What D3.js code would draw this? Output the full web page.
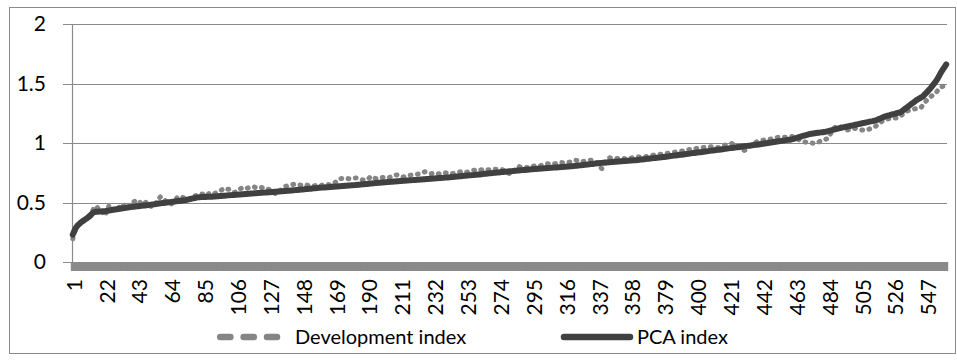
<!DOCTYPE html>
<html><head><meta charset="utf-8">
<script src="https://cdn.jsdelivr.net/npm/d3@7"></script>
<style>
body{margin:0;background:#fff}
svg{display:block}
text{font-family:Lato,"Liberation Sans",sans-serif;fill:#000}
</style>
</head><body>
<svg id="c" width="957" height="361"></svg>
<script>
const pcaIndex = [
0.230,0.262,0.288,0.305,0.318,0.330,0.340,0.349,0.358,0.367,
0.377,0.388,0.402,0.415,0.420,0.422,0.423,0.424,0.425,0.426,
0.427,0.428,0.430,0.432,0.435,0.437,0.439,0.441,0.443,0.445,
0.447,0.449,0.451,0.453,0.455,0.457,0.459,0.461,0.463,0.465,
0.466,0.468,0.469,0.471,0.472,0.474,0.475,0.477,0.478,0.480,
0.482,0.484,0.485,0.487,0.489,0.491,0.493,0.495,0.496,0.498,
0.500,0.502,0.503,0.505,0.507,0.508,0.510,0.512,0.513,0.515,
0.517,0.518,0.520,0.523,0.526,0.529,0.532,0.535,0.538,0.541,
0.543,0.545,0.546,0.546,0.547,0.547,0.548,0.548,0.549,0.549,
0.550,0.551,0.552,0.553,0.554,0.555,0.556,0.557,0.558,0.560,
0.561,0.562,0.563,0.564,0.565,0.566,0.567,0.568,0.569,0.570,
0.571,0.572,0.573,0.574,0.575,0.576,0.577,0.578,0.579,0.580,
0.581,0.582,0.583,0.584,0.585,0.586,0.587,0.588,0.589,0.590,
0.591,0.592,0.593,0.594,0.595,0.596,0.597,0.598,0.599,0.600,
0.601,0.603,0.604,0.605,0.606,0.608,0.609,0.610,0.611,0.613,
0.614,0.615,0.616,0.618,0.619,0.620,0.621,0.623,0.624,0.625,
0.626,0.627,0.628,0.629,0.630,0.631,0.632,0.633,0.634,0.635,
0.636,0.637,0.638,0.639,0.640,0.641,0.642,0.643,0.644,0.645,
0.646,0.648,0.649,0.650,0.651,0.653,0.654,0.655,0.656,0.658,
0.659,0.660,0.661,0.663,0.664,0.665,0.666,0.668,0.669,0.670,
0.671,0.672,0.673,0.674,0.675,0.676,0.677,0.678,0.679,0.680,
0.681,0.682,0.683,0.684,0.685,0.686,0.687,0.688,0.689,0.690,
0.691,0.692,0.693,0.694,0.695,0.696,0.697,0.698,0.699,0.700,
0.701,0.702,0.703,0.704,0.705,0.706,0.707,0.708,0.709,0.710,
0.711,0.713,0.714,0.715,0.716,0.718,0.719,0.720,0.721,0.723,
0.724,0.725,0.726,0.728,0.729,0.730,0.731,0.733,0.734,0.735,
0.736,0.738,0.739,0.741,0.742,0.744,0.745,0.746,0.747,0.749,
0.750,0.752,0.753,0.754,0.756,0.757,0.758,0.759,0.761,0.762,
0.763,0.764,0.766,0.767,0.768,0.769,0.771,0.772,0.773,0.774,
0.775,0.776,0.778,0.779,0.780,0.781,0.782,0.783,0.784,0.785,
0.786,0.787,0.788,0.789,0.790,0.791,0.792,0.793,0.794,0.795,
0.796,0.797,0.798,0.799,0.800,0.801,0.802,0.803,0.804,0.805,
0.806,0.808,0.809,0.811,0.812,0.814,0.815,0.817,0.818,0.820,
0.821,0.823,0.824,0.826,0.827,0.829,0.830,0.832,0.833,0.835,
0.836,0.837,0.838,0.839,0.840,0.841,0.842,0.843,0.844,0.845,
0.846,0.847,0.848,0.849,0.850,0.851,0.852,0.853,0.854,0.855,
0.856,0.858,0.859,0.861,0.862,0.864,0.865,0.867,0.868,0.870,
0.871,0.873,0.874,0.876,0.877,0.879,0.880,0.882,0.883,0.885,
0.887,0.888,0.890,0.892,0.894,0.895,0.897,0.899,0.901,0.902,
0.904,0.906,0.908,0.909,0.911,0.913,0.915,0.916,0.918,0.920,
0.922,0.923,0.925,0.927,0.929,0.930,0.932,0.934,0.936,0.937,
0.939,0.941,0.943,0.944,0.946,0.948,0.950,0.951,0.953,0.955,
0.957,0.958,0.960,0.962,0.964,0.965,0.967,0.969,0.971,0.972,
0.974,0.976,0.978,0.979,0.981,0.983,0.985,0.986,0.988,0.990,
0.992,0.994,0.996,0.998,1.000,1.002,1.004,1.006,1.008,1.010,
1.012,1.014,1.016,1.018,1.020,1.022,1.024,1.026,1.028,1.030,
1.033,1.037,1.041,1.045,1.049,1.053,1.057,1.061,1.065,1.069,
1.073,1.076,1.078,1.080,1.082,1.084,1.086,1.087,1.089,1.091,
1.093,1.095,1.098,1.101,1.105,1.108,1.112,1.115,1.119,1.122,
1.125,1.128,1.131,1.134,1.136,1.139,1.142,1.145,1.147,1.150,
1.153,1.156,1.159,1.162,1.165,1.168,1.170,1.173,1.176,1.179,
1.182,1.184,1.187,1.190,1.195,1.201,1.207,1.213,1.219,1.224,
1.227,1.231,1.234,1.238,1.242,1.245,1.249,1.253,1.256,1.260,
1.270,1.280,1.290,1.300,1.310,1.320,1.330,1.340,1.350,1.360,
1.368,1.375,1.383,1.390,1.404,1.418,1.432,1.446,1.460,1.478,
1.495,1.512,1.530,1.553,1.577,1.600,1.620,1.640,1.660
];
const devIndex = [
0.195,0.245,0.282,0.300,0.322,0.326,0.345,0.352,0.361,0.372,
0.385,0.395,0.412,0.440,0.462,0.470,0.452,0.428,0.430,0.418,
0.400,0.392,0.455,0.468,0.440,0.432,0.445,0.450,0.438,0.455,
0.462,0.448,0.470,0.478,0.488,0.490,0.476,0.468,0.492,0.505,
0.515,0.520,0.512,0.500,0.488,0.478,0.495,0.505,0.492,0.472,
0.468,0.462,0.470,0.490,0.512,0.535,0.548,0.545,0.532,0.515,
0.505,0.498,0.490,0.488,0.500,0.515,0.530,0.545,0.550,0.548,
0.545,0.538,0.530,0.522,0.525,0.530,0.528,0.540,0.555,0.560,
0.568,0.575,0.572,0.570,0.562,0.555,0.565,0.575,0.578,0.572,
0.570,0.578,0.585,0.590,0.598,0.605,0.612,0.618,0.620,0.612,
0.610,0.600,0.592,0.585,0.588,0.595,0.608,0.615,0.620,0.618,
0.612,0.618,0.622,0.628,0.630,0.632,0.630,0.625,0.622,0.625,
0.628,0.625,0.618,0.612,0.610,0.612,0.605,0.598,0.585,0.578,
0.572,0.575,0.590,0.610,0.622,0.628,0.635,0.640,0.645,0.648,
0.650,0.652,0.655,0.652,0.650,0.648,0.645,0.648,0.650,0.648,
0.645,0.642,0.640,0.638,0.640,0.642,0.640,0.636,0.638,0.645,
0.650,0.652,0.655,0.652,0.650,0.648,0.652,0.660,0.672,0.685,
0.695,0.700,0.702,0.704,0.705,0.703,0.700,0.698,0.700,0.702,
0.705,0.706,0.704,0.700,0.695,0.690,0.688,0.690,0.692,0.700,
0.715,0.720,0.712,0.705,0.700,0.702,0.705,0.708,0.710,0.712,
0.710,0.706,0.708,0.715,0.722,0.728,0.730,0.732,0.728,0.722,
0.718,0.715,0.718,0.722,0.725,0.728,0.730,0.732,0.735,0.738,
0.738,0.740,0.742,0.748,0.755,0.758,0.756,0.750,0.745,0.742,
0.745,0.748,0.746,0.742,0.740,0.745,0.750,0.752,0.750,0.746,
0.742,0.740,0.742,0.744,0.745,0.748,0.752,0.756,0.758,0.760,
0.757,0.752,0.755,0.760,0.765,0.768,0.770,0.772,0.770,0.768,
0.772,0.775,0.778,0.780,0.778,0.776,0.774,0.777,0.780,0.782,
0.780,0.778,0.780,0.782,0.778,0.772,0.768,0.765,0.752,0.742,
0.738,0.745,0.765,0.785,0.800,0.802,0.798,0.794,0.792,0.795,
0.795,0.792,0.795,0.800,0.805,0.808,0.810,0.808,0.805,0.810,
0.815,0.820,0.824,0.826,0.825,0.822,0.820,0.823,0.826,0.830,
0.833,0.835,0.836,0.835,0.834,0.835,0.836,0.838,0.842,0.848,
0.852,0.855,0.853,0.850,0.846,0.842,0.845,0.848,0.850,0.852,
0.854,0.856,0.856,0.855,0.848,0.830,0.810,0.795,0.785,0.800,
0.830,0.858,0.872,0.876,0.874,0.872,0.870,0.868,0.870,0.872,
0.874,0.872,0.870,0.868,0.866,0.868,0.870,0.874,0.877,0.880,
0.882,0.884,0.882,0.880,0.880,0.882,0.885,0.888,0.892,0.894,
0.896,0.898,0.900,0.902,0.903,0.905,0.906,0.908,0.910,0.912,
0.914,0.916,0.918,0.921,0.922,0.924,0.926,0.928,0.930,0.932,
0.934,0.936,0.938,0.942,0.946,0.948,0.950,0.948,0.952,0.956,
0.958,0.960,0.962,0.963,0.964,0.965,0.966,0.968,0.968,0.966,
0.964,0.962,0.962,0.964,0.968,0.972,0.978,0.984,0.988,0.992,
0.994,0.995,0.993,0.990,0.985,0.978,0.965,0.952,0.944,0.938,
0.942,0.952,0.966,0.978,0.988,0.996,1.004,1.010,1.016,1.020,
1.022,1.024,1.025,1.026,1.028,1.030,1.034,1.038,1.042,1.045,
1.047,1.048,1.049,1.050,1.049,1.048,1.050,1.052,1.054,1.055,
1.054,1.050,1.044,1.036,1.026,1.018,1.012,1.010,1.008,1.006,
1.004,1.002,1.000,0.998,0.996,0.998,1.004,1.012,1.020,1.026,
1.030,1.032,1.034,1.050,1.075,1.098,1.118,1.132,1.140,1.142,
1.138,1.130,1.122,1.116,1.112,1.110,1.112,1.116,1.120,1.122,
1.122,1.120,1.118,1.114,1.110,1.108,1.107,1.108,1.112,1.118,
1.124,1.130,1.136,1.142,1.150,1.160,1.172,1.182,1.190,1.196,
1.200,1.203,1.205,1.206,1.208,1.209,1.210,1.212,1.218,1.228,
1.240,1.252,1.262,1.268,1.272,1.276,1.280,1.284,1.287,1.289,
1.290,1.292,1.300,1.315,1.332,1.350,1.366,1.378,1.388,1.398,
1.408,1.418,1.432,1.448,1.460,1.470,1.478,1.485,1.490
];
const seriesNames = ["Development index", "PCA index"];
const yTickValues = [0, 0.5, 1, 1.5, 2];
const xTickLabels = [1,22,43,64,85,106,127,148,169,190,211,232,253,274,295,316,337,358,379,400,421,442,463,484,505,526,547];
const categories = pcaIndex.map((d, i) => i + 1);

const svg = d3.select("#c");
const plot = {l: 72, r: 947, t: 24, b: 262};
const gridColor = "#8a8a8a";

const x = d3.scaleBand().domain(categories).range([plot.l, plot.r]).padding(0);
const y = d3.scaleLinear().domain([0, 2]).range([plot.b, plot.t]);
const cx = c => x(c) + x.bandwidth() / 2;

// outer chart border
svg.append("rect").attr("x", 9.5).attr("y", 7.5).attr("width", 946).attr("height", 346)
  .attr("fill", "none").attr("stroke", gridColor).attr("stroke-width", 1);

// gridlines and y labels
const gy = svg.append("g");
gy.selectAll("line.grid").data(yTickValues).join("line").attr("class", "grid")
  .attr("x1", plot.l - 9).attr("x2", plot.r)
  .attr("y1", d => Math.round(y(d)) + 0.5).attr("y2", d => Math.round(y(d)) + 0.5)
  .attr("stroke", gridColor).attr("stroke-width", 1.2);
gy.selectAll("text").data(yTickValues).join("text")
  .attr("x", 46).attr("y", d => y(d)).attr("dy", "0.35em")
  .attr("text-anchor", "end").attr("font-size", 21)
  .text(d => d3.format("~g")(d));

// y axis line
svg.append("line").attr("x1", plot.l + 0.5).attr("x2", plot.l + 0.5)
  .attr("y1", plot.t).attr("y2", plot.b).attr("stroke", gridColor).attr("stroke-width", 1.2);

// x tick marks between categories (dense band)
const tickPos = categories.map(c => x(c)).concat([plot.r]);
svg.append("g").selectAll("line").data(tickPos).join("line")
  .attr("x1", d => d).attr("x2", d => d)
  .attr("y1", plot.b).attr("y2", plot.b + 9)
  .attr("stroke", gridColor).attr("stroke-width", 2.4);

// x labels
svg.append("g").selectAll("text").data(xTickLabels).join("text")
  .attr("transform", d => `translate(${cx(d) + 1.5},279) rotate(-90)`)
  .attr("dy", "0.35em").attr("text-anchor", "end").attr("font-size", 21)
  .text(d => d);

// series
const line = d3.line().x((d, i) => cx(categories[i])).y(d => y(d));
svg.append("path").datum(devIndex).attr("d", line)
  .attr("fill", "none").attr("stroke", "#858585").attr("stroke-width", 5)
  .attr("stroke-linecap", "round").attr("stroke-linejoin", "round")
  .attr("stroke-dasharray", "0.8 6.5");
svg.append("path").datum(pcaIndex).attr("d", line)
  .attr("fill", "none").attr("stroke", "#404040").attr("stroke-width", 6)
  .attr("stroke-linecap", "round").attr("stroke-linejoin", "round");

// legend
const lg = svg.append("g");
lg.append("line").attr("x1", 220.2).attr("x2", 277).attr("y1", 337).attr("y2", 337)
  .attr("stroke", "#858585").attr("stroke-width", 6.5).attr("stroke-linecap", "round")
  .attr("stroke-dasharray", "10.2 13.2");
lg.append("text").attr("x", 295).attr("y", 337).attr("dy", "0.35em").attr("font-size", 20)
  .text(seriesNames[0]);
lg.append("line").attr("x1", 564).attr("x2", 630).attr("y1", 337).attr("y2", 337)
  .attr("stroke", "#404040").attr("stroke-width", 6.5).attr("stroke-linecap", "round");
lg.append("text").attr("x", 637).attr("y", 337).attr("dy", "0.35em").attr("font-size", 20)
  .text(seriesNames[1]);
</script>
</body></html>
